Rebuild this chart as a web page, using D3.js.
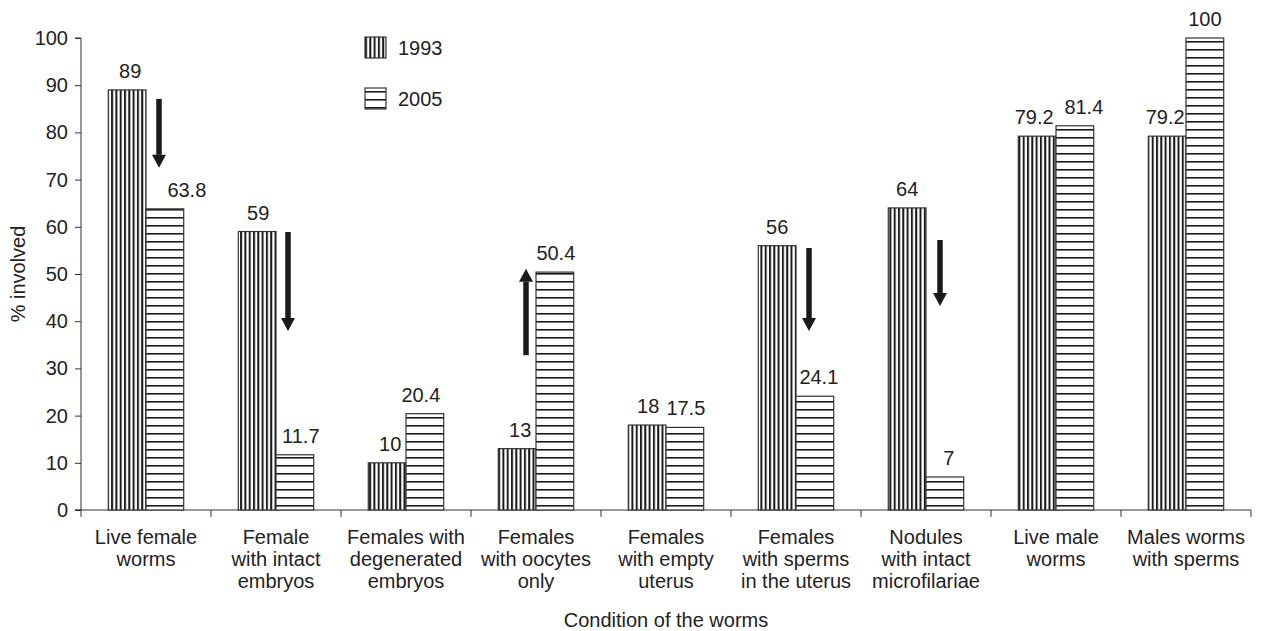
<!DOCTYPE html>
<html lang="en">
<head>
  <meta charset="UTF-8" />
  <title>Condition of the worms, 1993 vs 2005</title>
  <script src="https://d3js.org/d3.v7.min.js"></script>
  <style>
    body {
      margin: 0;
      background: #fff;
      font-family: "Liberation Sans", Arial, sans-serif;
    }
    svg { display: block; }
    .axis path, .axis line { stroke: #333; }
    .axis text { font-size: 20px; fill: #222; font-family: "Liberation Sans", Arial, sans-serif; }
  </style>
</head>
<body>
<svg width="1262" height="631"></svg>
<script>
  // data
  const categories = [
    ["Live female", "worms"],
    ["Female", "with intact", "embryos"],
    ["Females with", "degenerated", "embryos"],
    ["Females", "with oocytes", "only"],
    ["Females", "with empty", "uterus"],
    ["Females", "with sperms", "in the uterus"],
    ["Nodules", "with intact", "microfilariae"],
    ["Live male", "worms"],
    ["Males worms", "with sperms"]
  ];
  const values1993 = [89, 59, 10, 13, 18, 56, 64, 79.2, 79.2];
  const values2005 = [63.8, 11.7, 20.4, 50.4, 17.5, 24.1, 7, 81.4, 100];
  const labels1993 = ["89", "59", "10", "13", "18", "56", "64", "79.2", "79.2"];
  const labels2005 = ["63.8", "11.7", "20.4", "50.4", "17.5", "24.1", "7", "81.4", "100"];
  const yTicks = [0, 10, 20, 30, 40, 50, 60, 70, 80, 90, 100];
  // arrows: category index, start value, end value (arrow head at end)
  const arrowCats = [0, 1, 3, 5, 6];
  const arrowFrom = [87.1, 58.9, 32.8, 55.5, 57.2];
  const arrowTo = [72.5, 37.9, 51.1, 37.9, 43.2];

  // small layout tweaks for the hand-placed labels/arrows
  const label1993Shift = [3, 1, 3, 3, 1, 0, 0, -3, -2];
  const label2005Shift = [22, 6, -4, 1, 1, 4, 4, 9, 0];
  const arrowShift = [13, 12, -10, 13, 14];

  const svg = d3.select("svg");
  const margin = { top: 38, right: 11, bottom: 121, left: 81 };
  const width = 1262 - margin.left - margin.right;
  const height = 631 - margin.top - margin.bottom;
  const g = svg.append("g").attr("transform", `translate(${margin.left},${margin.top})`);

  const x = d3.scaleBand().domain(d3.range(categories.length)).range([0, width]);
  const y = d3.scaleLinear().domain([0, 100]).range([height, 0]);
  const barW = x.bandwidth() * 0.29;

  // patterns
  const defs = svg.append("defs");
  const vert = defs.append("pattern").attr("id", "vert").attr("patternUnits", "userSpaceOnUse")
    .attr("width", 4.3).attr("height", 10);
  vert.append("rect").attr("width", 4.3).attr("height", 10).attr("fill", "#fff");
  vert.append("rect").attr("x", 0).attr("width", 2).attr("height", 10).attr("fill", "#1a1a1a");
  const horiz = defs.append("pattern").attr("id", "horiz").attr("patternUnits", "userSpaceOnUse")
    .attr("width", 10).attr("height", 8);
  horiz.append("rect").attr("width", 10).attr("height", 8).attr("fill", "#fff");
  horiz.append("rect").attr("y", 3).attr("width", 10).attr("height", 1.6).attr("fill", "#1a1a1a");

  // axes
  g.append("g").attr("class", "axis")
    .call(d3.axisLeft(y).tickValues(yTicks).tickSize(6).tickPadding(7))
    .call(a => a.select(".domain").attr("d", `M-6,${height}H0V0H-6`));

  const xAxis = g.append("g").attr("class", "axis").attr("transform", `translate(0,${height})`);
  xAxis.append("path").attr("d", `M-6,0H${width}`).attr("stroke", "#333").attr("fill", "none");
  xAxis.selectAll("line").data(d3.range(categories.length + 1)).join("line")
    .attr("x1", i => i * x.step()).attr("x2", i => i * x.step())
    .attr("y1", 0).attr("y2", 7).attr("stroke", "#333");

  xAxis.selectAll("text.cat").data(categories).join("text")
    .attr("class", "cat")
    .attr("text-anchor", "middle")
    .attr("font-size", 20)
    .attr("fill", "#222")
    .attr("transform", (d, i) => `translate(${x(i) + x.bandwidth() / 2},34)`)
    .each(function(lines) {
      d3.select(this).selectAll("tspan").data(lines).join("tspan")
        .attr("x", 0).attr("y", (l, k) => k * 22).text(l => l);
    });

  // bars
  const cx = i => x(i) + x.bandwidth() / 2;
  g.selectAll("rect.b1993").data(values1993).join("rect")
    .attr("class", "b1993")
    .attr("x", (d, i) => cx(i) - barW).attr("y", d => y(d))
    .attr("width", barW).attr("height", d => y(0) - y(d))
    .attr("fill", "url(#vert)").attr("stroke", "#333").attr("stroke-width", 1.2);
  g.selectAll("rect.b2005").data(values2005).join("rect")
    .attr("class", "b2005")
    .attr("x", (d, i) => cx(i)).attr("y", d => y(d))
    .attr("width", barW).attr("height", d => y(0) - y(d))
    .attr("fill", "url(#horiz)").attr("stroke", "#333").attr("stroke-width", 1.2);

  // value labels
  g.selectAll("text.l1993").data(values1993).join("text")
    .attr("class", "l1993").attr("text-anchor", "middle").attr("font-size", 20).attr("fill", "#222")
    .attr("x", (d, i) => cx(i) - barW / 2 + label1993Shift[i]).attr("y", d => y(d) - 12)
    .text((d, i) => labels1993[i]);
  g.selectAll("text.l2005").data(values2005).join("text")
    .attr("class", "l2005").attr("text-anchor", "middle").attr("font-size", 20).attr("fill", "#222")
    .attr("x", (d, i) => cx(i) + barW / 2 + label2005Shift[i]).attr("y", d => y(d) - 12)
    .text((d, i) => labels2005[i]);

  // arrows
  arrowCats.forEach((c, k) => {
    const ax = cx(c) + arrowShift[k];
    const y0 = y(arrowFrom[k]);
    const y1 = y(arrowTo[k]);
    const dir = y1 > y0 ? 1 : -1;
    const headL = 13;
    g.append("line")
      .attr("x1", ax).attr("x2", ax)
      .attr("y1", y0).attr("y2", y1 - dir * headL)
      .attr("stroke", "#1a1a1a").attr("stroke-width", 5.5);
    g.append("path")
      .attr("d", `M${ax - 7},${y1 - dir * headL}L${ax + 7},${y1 - dir * headL}L${ax},${y1}Z`)
      .attr("fill", "#1a1a1a");
  });

  // legend
  const legend = svg.append("g").attr("transform", "translate(365,37)");
  [["1993", "url(#vert)"], ["2005", "url(#horiz)"]].forEach((d, i) => {
    const row = legend.append("g").attr("transform", `translate(0,${i * 51})`);
    row.append("rect").attr("width", 21).attr("height", 21)
      .attr("fill", d[1]).attr("stroke", "#333").attr("stroke-width", 1.2);
    row.append("text").attr("x", 33).attr("y", 18).attr("font-size", 20).attr("fill", "#222").text(d[0]);
  });

  // axis titles
  svg.append("text")
    .attr("transform", `translate(25,${margin.top + height / 2}) rotate(-90)`)
    .attr("text-anchor", "middle").attr("font-size", 20).attr("fill", "#222")
    .text("% involved");
  svg.append("text")
    .attr("x", margin.left + width / 2).attr("y", 627)
    .attr("text-anchor", "middle").attr("font-size", 20).attr("fill", "#222")
    .text("Condition of the worms");
</script>
</body>
</html>
